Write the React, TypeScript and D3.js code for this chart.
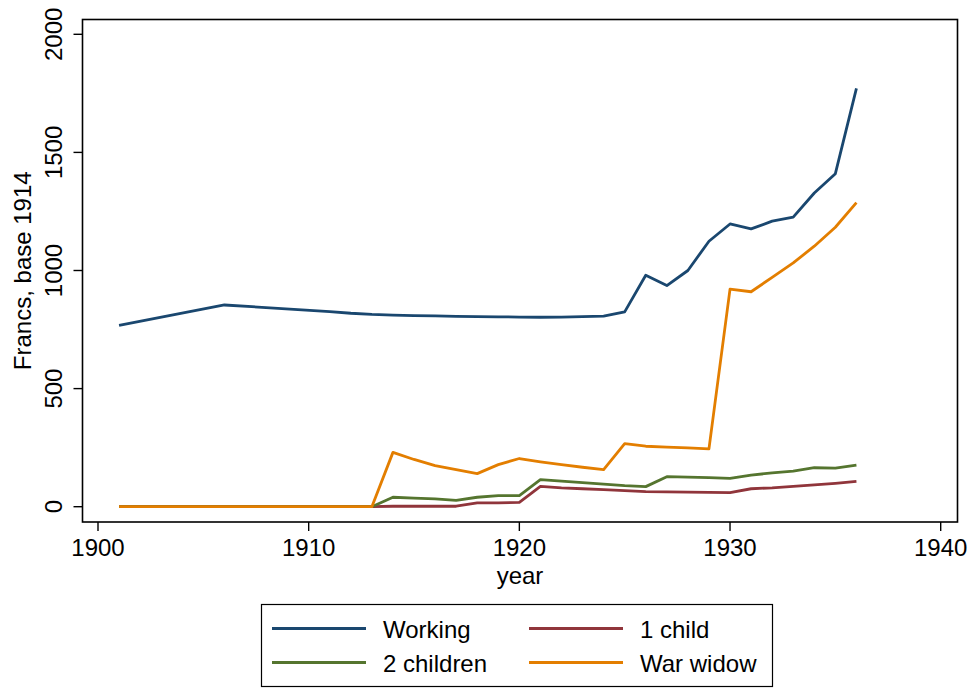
import * as d3 from 'd3'
import { useEffect, useRef } from 'react'

const years = [1901, 1906, 1911, 1912, 1913, 1914, 1915, 1916, 1917, 1918, 1919, 1920, 1921, 1922, 1923, 1924, 1925, 1926, 1927, 1928, 1929, 1930, 1931, 1932, 1933, 1934, 1935, 1936]
const working = [768, 854, 826, 819, 814, 811, 809, 808, 806, 805, 804, 803, 802, 803, 805, 807, 825, 980, 936, 1000, 1124, 1197, 1176, 1209, 1226, 1328, 1410, 1771]
const oneChild = [0, 0, 0, 0, 0, 2, 2, 2, 2, 16, 16, 18, 86, 80, 76, 72, 68, 64, 63, 62, 61, 60, 76, 80, 86, 92, 99, 107]
const twoChildren = [0, 0, 0, 0, 0, 40, 36, 33, 27, 40, 47, 47, 115, 108, 102, 96, 89, 85, 127, 125, 123, 120, 134, 143, 151, 165, 163, 176]
const warWidow = [0, 0, 0, 0, 0, 230, 200, 174, 157, 140, 178, 204, 190, 178, 167, 157, 267, 256, 252, 249, 245, 921, 910, 971, 1032, 1103, 1183, 1287]

const xTicks = [1900, 1910, 1920, 1930, 1940]
const yTicks = [0, 500, 1000, 1500, 2000]

const series = [
  { name: 'Working', values: working, color: '#1a476f' },
  { name: '1 child', values: oneChild, color: '#90353b' },
  { name: '2 children', values: twoChildren, color: '#55752f' },
  { name: 'War widow', values: warWidow, color: '#e37e00' }
]

const FONT = '"Liberation Sans", Arial, Helvetica, sans-serif'

export default function App() {
  const svgRef = useRef<SVGSVGElement | null>(null)

  useEffect(() => {
    if (!svgRef.current) return
    const width = 973
    const height = 688
    const frame = { left: 82.5, right: 957.5, top: 19.5, bottom: 522 }

    const svg = d3.select(svgRef.current)
    svg.selectAll('*').remove()
    svg.attr('width', width).attr('height', height)

    svg.append('rect').attr('width', width).attr('height', height).attr('fill', '#fff')

    const x = d3.scaleLinear().domain([1900, 1940]).range([98, 940.7])
    const y = d3.scaleLinear().domain([0, 2000]).range([506.7, 34.3])

    // plot frame
    svg
      .append('rect')
      .attr('x', frame.left)
      .attr('y', frame.top)
      .attr('width', frame.right - frame.left)
      .attr('height', frame.bottom - frame.top)
      .attr('fill', 'none')
      .attr('stroke', '#000')
      .attr('stroke-width', 1.6)

    // y axis
    const yAxis = svg.append('g').attr('transform', `translate(${frame.left},0)`)
    yAxis
      .selectAll('line')
      .data(yTicks)
      .join('line')
      .attr('x1', -9)
      .attr('x2', 0)
      .attr('y1', d => y(d))
      .attr('y2', d => y(d))
      .attr('stroke', '#000')
      .attr('stroke-width', 1.4)
    yAxis
      .selectAll('text')
      .data(yTicks)
      .join('text')
      .attr('transform', d => `translate(-21,${y(d)}) rotate(-90)`)
      .attr('text-anchor', 'middle')
      .attr('font-family', FONT)
      .attr('font-size', 24)
      .attr('fill', '#000')
      .text(d => String(d))

    // x axis
    const xAxis = svg.append('g').attr('transform', `translate(0,${frame.bottom})`)
    xAxis
      .selectAll('line')
      .data(xTicks)
      .join('line')
      .attr('x1', d => x(d))
      .attr('x2', d => x(d))
      .attr('y1', 0)
      .attr('y2', 9)
      .attr('stroke', '#000')
      .attr('stroke-width', 1.4)
    xAxis
      .selectAll('text')
      .data(xTicks)
      .join('text')
      .attr('x', d => x(d))
      .attr('y', 34)
      .attr('text-anchor', 'middle')
      .attr('font-family', FONT)
      .attr('font-size', 24)
      .attr('fill', '#000')
      .text(d => String(d))

    // axis titles
    svg
      .append('text')
      .attr('x', (frame.left + frame.right) / 2)
      .attr('y', 584)
      .attr('text-anchor', 'middle')
      .attr('font-family', FONT)
      .attr('font-size', 24)
      .text('year')
    svg
      .append('text')
      .attr('transform', `translate(31,${(frame.top + frame.bottom) / 2}) rotate(-90)`)
      .attr('text-anchor', 'middle')
      .attr('font-family', FONT)
      .attr('font-size', 24)
      .text('Francs, base 1914')

    // lines
    const line = d3
      .line<number>()
      .x((_, i) => x(years[i]))
      .y(d => y(d))

    series.forEach(s => {
      svg
        .append('path')
        .datum(s.values)
        .attr('fill', 'none')
        .attr('stroke', s.color)
        .attr('stroke-width', 2.8)
        .attr('stroke-linejoin', 'round')
        .attr('d', line)
    })

    // legend
    const legend = svg.append('g')
    legend
      .append('rect')
      .attr('x', 261.5)
      .attr('y', 604.5)
      .attr('width', 511)
      .attr('height', 82)
      .attr('fill', '#fff')
      .attr('stroke', '#000')
      .attr('stroke-width', 1.2)
    const cols = [272, 529]
    const rows = [628.5, 662.5]
    series.forEach((s, i) => {
      const cx = cols[i % 2]
      const cy = rows[Math.floor(i / 2)]
      legend
        .append('line')
        .attr('x1', cx)
        .attr('x2', cx + 94)
        .attr('y1', cy)
        .attr('y2', cy)
        .attr('stroke', s.color)
        .attr('stroke-width', 2.8)
      legend
        .append('text')
        .attr('x', cx + 111)
        .attr('y', cy + 9)
        .attr('font-family', FONT)
        .attr('font-size', 24)
        .attr('fill', '#000')
        .text(s.name)
    })
  }, [])

  return (
    <svg
      ref={svgRef}
      style={{ position: 'absolute', left: 0, top: 0, display: 'block' }}
    />
  )
}
